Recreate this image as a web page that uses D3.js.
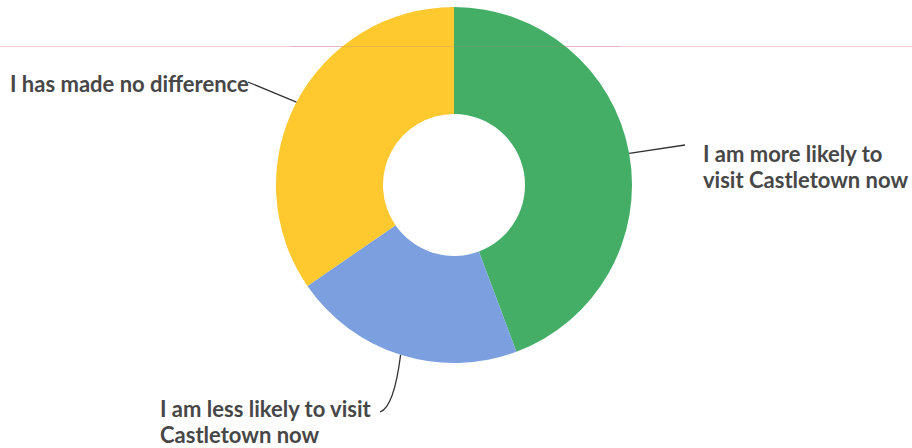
<!DOCTYPE html>
<html>
<head>
<meta charset="utf-8">
<script src="https://cdn.jsdelivr.net/npm/d3@7"></script>
<style>
	body { margin: 0; background: #fff; }
	svg { display: block; }
	.label { font-family: Lato, "Open Sans", sans-serif; font-weight: 700; font-size: 22px; fill: #474747; }
</style>
</head>
<body>
<div id="chart"></div>
<script>
// answers, clockwise from 12 o'clock
const answers = [
	"I am more likely to visit Castletown now",
	"I am less likely to visit Castletown now",
	"I has made no difference"
];
const shares = [44.3, 21.1, 34.6];
const labelLines = [
	["I am more likely to", "visit Castletown now"],
	["I am less likely to visit", "Castletown now"],
	["I has made no difference"]
];
const colors = ["#45ae66", "#7b9fdf", "#fec82f"];

const w = 912;
const h = 448;
const cx = 454;
const cy = 185;
const outerR = 178;
const innerR = 71;

const svg = d3
	.select("#chart")
	.append("svg")
	.attr("width", w)
	.attr("height", h);

// faint pink rule across the scan
svg
	.append("line")
	.attr("x1", 0)
	.attr("x2", w)
	.attr("y1", 46.5)
	.attr("y2", 46.5)
	.attr("stroke", "#f3ccd4")
	.attr("stroke-width", 1.2);

const pie = d3.pie().sort(null).value((d) => d);
const arcs = pie(shares);
const arc = d3.arc().innerRadius(innerR).outerRadius(outerR);

const g = svg.append("g").attr("transform", `translate(${cx},${cy})`);

g.selectAll("path.slice")
	.data(arcs)
	.enter()
	.append("path")
	.attr("class", "slice")
	.attr("d", arc)
	.attr("fill", (d, i) => colors[i]);

// the rule shows faintly through the donut too
svg
	.append("line")
	.attr("x1", 290)
	.attr("x2", 620)
	.attr("y1", 46.5)
	.attr("y2", 46.5)
	.attr("stroke", "#b08080")
	.attr("stroke-opacity", 0.25)
	.attr("stroke-width", 1);

// point on the outer edge at the middle of a slice
const edge = (d) => {
	const a = (d.startAngle + d.endAngle) / 2;
	return [Math.sin(a) * outerR, -Math.cos(a) * outerR];
};

// leader ends and text positions, relative to the donut centre
const leaders = [
	{ end: [231, -40], text: [249, -23] },
	{ end: [-74, 227], ctrl: [-60, 222], text: [-294, 232] },
	{ end: [-206, -103], text: [-444, -93] }
];

arcs.forEach((d, i) => {
	const [sx, sy] = edge(d);
	const L = leaders[i];
	const path = d3.path();
	path.moveTo(sx, sy);
	if (L.ctrl) {
		path.quadraticCurveTo(L.ctrl[0], L.ctrl[1], L.end[0], L.end[1]);
	} else {
		path.lineTo(L.end[0], L.end[1]);
	}
	g.append("path")
		.attr("d", path.toString())
		.attr("fill", "none")
		.attr("stroke", "#333")
		.attr("stroke-width", 1.3);

	const t = g
		.append("text")
		.attr("class", "label")
		.attr("x", L.text[0])
		.attr("y", L.text[1]);
	labelLines[i].forEach((line, k) => {
		t.append("tspan")
			.attr("x", L.text[0])
			.attr("dy", k === 0 ? 0 : 26)
			.text(line);
	});
});
</script>
</body>
</html>
